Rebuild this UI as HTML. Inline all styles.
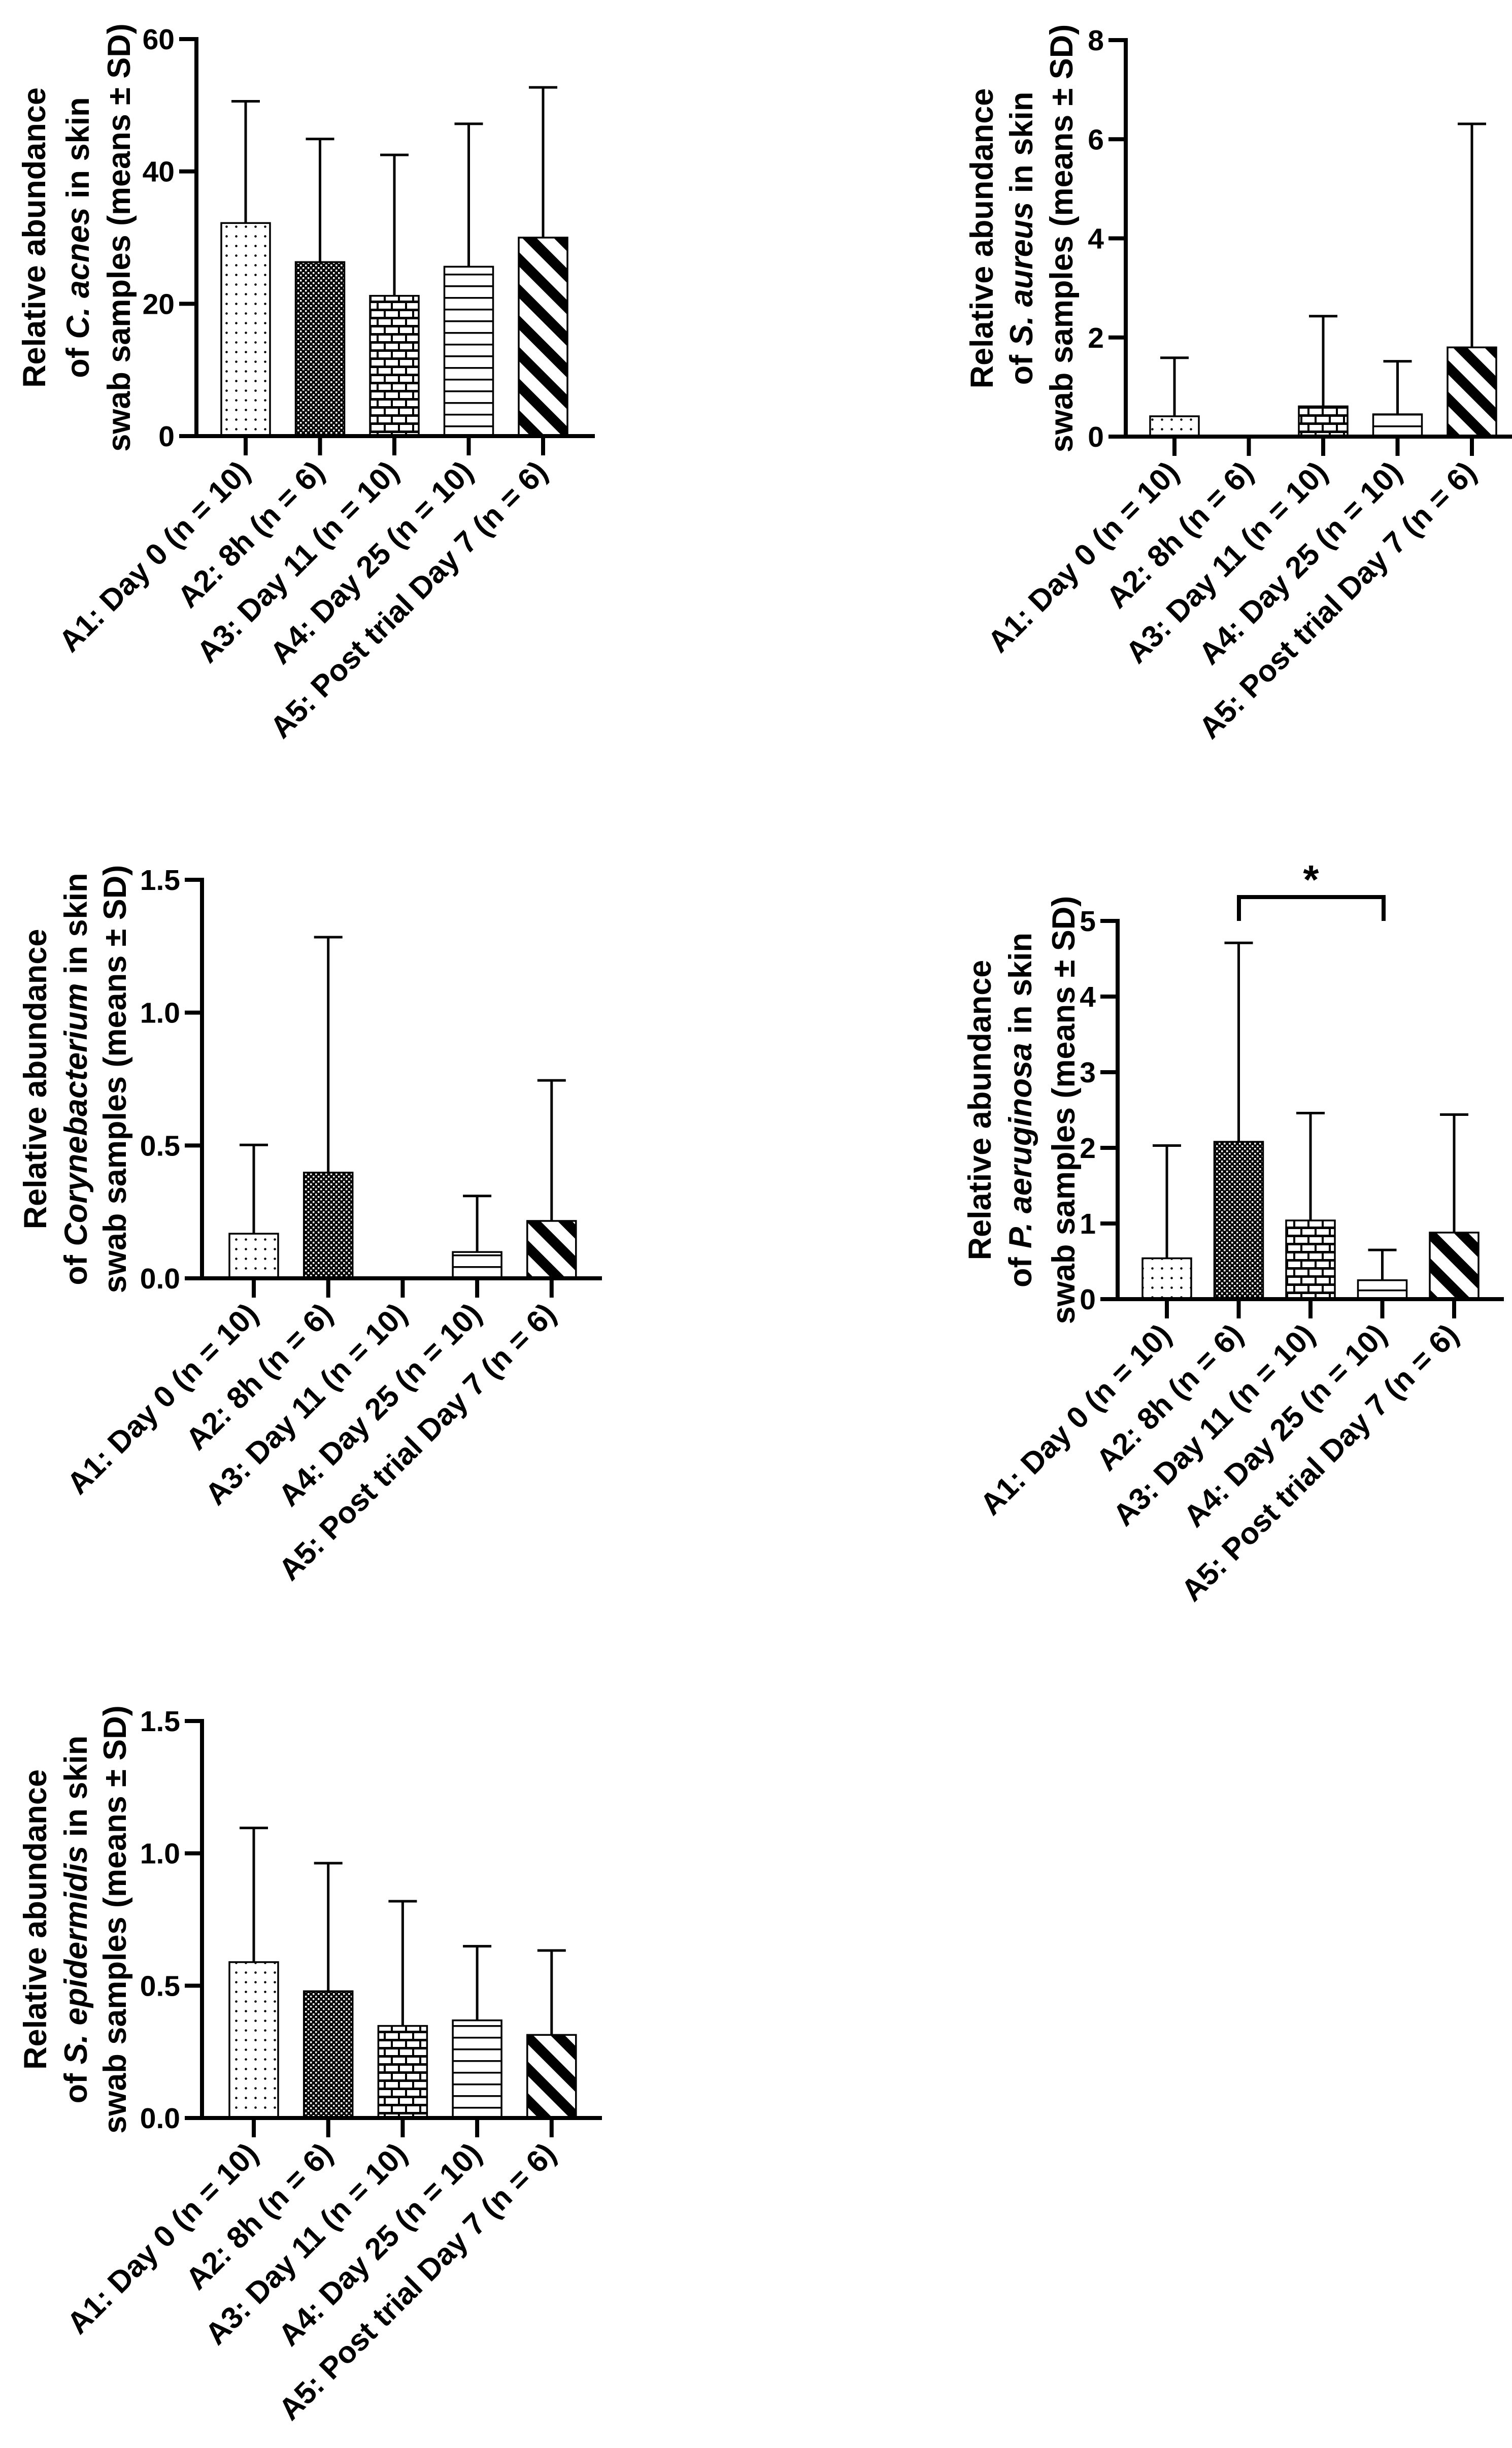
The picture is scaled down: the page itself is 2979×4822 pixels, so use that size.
<!DOCTYPE html>
<html><head><meta charset="utf-8"><style>
html,body{margin:0;padding:0;background:#fff}
svg{display:block;font-family:"Liberation Sans",Arial,sans-serif;font-weight:bold}
</style></head><body>
<svg id="fig" xmlns="http://www.w3.org/2000/svg" width="2979" height="4822" viewBox="0 0 2979 4822">
<defs>
<pattern id="p-dots" patternUnits="userSpaceOnUse" width="19" height="19"><rect width="19" height="19" fill="#fff"/><circle cx="9.5" cy="9.5" r="2.3" fill="#000"/></pattern>
<pattern id="p-check" patternUnits="userSpaceOnUse" width="10" height="10"><rect width="10" height="10" fill="#000"/><rect x="1" y="1" width="3.5" height="3.5" fill="#fff"/><rect x="6" y="6" width="3.5" height="3.5" fill="#fff"/></pattern>
<pattern id="p-brick" patternUnits="userSpaceOnUse" width="28" height="32"><rect width="28" height="32" fill="#fff"/><rect y="0" width="28" height="5" fill="#000"/><rect y="16" width="28" height="5" fill="#000"/><rect x="0" y="0" width="4" height="16" fill="#000"/><rect x="14" y="16" width="4" height="16" fill="#000"/></pattern>
<pattern id="p-hline" patternUnits="userSpaceOnUse" width="20" height="23"><rect width="20" height="23" fill="#fff"/><rect y="10" width="20" height="3.5" fill="#000"/></pattern>
<pattern id="p-diag" patternUnits="userSpaceOnUse" width="44" height="44" patternTransform="rotate(-45)"><rect width="44" height="44" fill="#fff"/><rect x="0" width="20" height="44" fill="#000"/></pattern>
</defs>
</svg>
<script>
const categories = ["A1: Day 0 (n = 10)","A2: 8h (n = 6)","A3: Day 11 (n = 10)","A4: Day 25 (n = 10)","A5: Post trial Day 7 (n = 6)"];
const acnesMean = [32.2, 26.3, 21.2, 25.6, 30.0];
const acnesTop = [50.6, 44.9, 42.5, 47.2, 52.7];
const acnesTicks = ["0","20","40","60"];
const aureusMean = [0.41, 0, 0.61, 0.45, 1.80];
const aureusTop = [1.59, 0, 2.43, 1.52, 6.31];
const aureusTicks = ["0","2","4","6","8"];
const coryneMean = [0.168, 0.398, 0, 0.099, 0.216];
const coryneTop = [0.502, 1.284, 0, 0.31, 0.745];
const coryneTicks = ["0.0","0.5","1.0","1.5"];
const paeMean = [0.54, 2.08, 1.04, 0.25, 0.88];
const paeTop = [2.03, 4.71, 2.46, 0.65, 2.44];
const paeTicks = ["0","1","2","3","4","5"];
const sepiMean = [0.589, 0.479, 0.348, 0.369, 0.314];
const sepiTop = [1.096, 0.963, 0.819, 0.649, 0.633];
const sepiTicks = ["0.0","0.5","1.0","1.5"];
const fills = ["url(#p-dots)","url(#p-check)","url(#p-brick)","url(#p-hline)","url(#p-diag)"];

const NS = "http://www.w3.org/2000/svg";
const svg = document.getElementById('fig');
function mk(tag, attrs, parent){ const e=document.createElementNS(NS,tag); for(const k in attrs) e.setAttribute(k,attrs[k]); (parent||svg).appendChild(e); return e; }

const panels = [
 {name:'c-acnes', species:'C. acnes', mean:acnesMean, top:acnesTop, ticks:acnesTicks, ax:387, y0:859, y1:77, xEnd:1172, c0:484, step:146.5, tx:[-298,-212,-131]},
 {name:'s-aureus', species:'S. aureus', mean:aureusMean, top:aureusTop, ticks:aureusTicks, ax:2218, y0:860, y1:79, xEnd:2979, c0:2314, step:146.5, tx:[-262,-184,-105]},
 {name:'corynebacterium', species:'Corynebacterium', mean:coryneMean, top:coryneTop, ticks:coryneTicks, ax:398, y0:2518, y1:1733, xEnd:1186, c0:500, step:146.7, tx:[-307,-227,-150]},
 {name:'p-aeruginosa', species:'P. aeruginosa', mean:paeMean, top:paeTop, ticks:paeTicks, ax:2202, y0:2559, y1:1814, xEnd:2963, c0:2299, step:141.5, tx:[-250,-170,-85]},
 {name:'s-epidermidis', species:'S. epidermidis', mean:sepiMean, top:sepiTop, ticks:sepiTicks, ax:398, y0:4172, y1:3390, xEnd:1186, c0:500, step:146.7, tx:[-307,-227,-150]}
];

panels.forEach(p=>{
  const g = mk('g',{});
  
  
  const tmax = parseFloat(p.ticks[p.ticks.length-1]);
  const y = v => p.y0 - (v/tmax)*(p.y0-p.y1);
  const xc = i => p.c0 + i*p.step;
  const bw = 96;
  p.mean.forEach((m,i)=>{
    if(m<=0) return;
    const r = mk('rect',{x:xc(i)-bw/2, y:y(m), width:bw, height:p.y0-y(m), fill:fills[i], stroke:'#000','stroke-width':3.5}, g);
    
    
    const e = mk('g',{}, g);
    
    
    mk('line',{x1:xc(i),x2:xc(i),y1:y(m),y2:y(p.top[i]),stroke:'#000','stroke-width':5}, e);
    mk('line',{x1:xc(i)-28,x2:xc(i)+28,y1:y(p.top[i]),y2:y(p.top[i]),stroke:'#000','stroke-width':5}, e);
  });
  const ya = mk('g',{}, g);
  
  
  mk('line',{x1:p.ax,x2:p.ax,y1:p.y1-4,y2:p.y0+4,stroke:'#000','stroke-width':8}, ya);
  p.ticks.forEach(t=>{
    const v=parseFloat(t), yy=y(v);
    mk('line',{x1:p.ax-34,x2:p.ax,y1:yy,y2:yy,stroke:'#000','stroke-width':8}, ya);
    const tl = mk('text',{x:p.ax-43,y:yy+20,'text-anchor':'end','font-size':57}, ya);
    tl.textContent=t;
    
    
  });
  const xa = mk('g',{}, g);
  
  
  mk('line',{x1:p.ax-4,x2:p.xEnd,y1:p.y0,y2:p.y0,stroke:'#000','stroke-width':8}, xa);
  categories.forEach((c,i)=>{
    mk('line',{x1:xc(i),x2:xc(i),y1:p.y0,y2:p.y0+38,stroke:'#000','stroke-width':8}, xa);
    const lx=xc(i)+12, ly=p.y0+74;
    const tl = mk('text',{x:lx,y:ly,'text-anchor':'end','font-size':60,transform:`rotate(-45 ${lx} ${ly})`}, xa);
    tl.textContent=c;
    
    
  });
  const cy = (p.y0+p.y1)/2;
  const tg = mk('g',{}, g);
  
  
  const lines = [];
  p.tx.forEach((off,k)=>{
    const x = p.ax+off;
    lines[k] = mk('text',{x:x,y:cy,'text-anchor':'middle','font-size':63,transform:`rotate(-90 ${x} ${cy})`}, tg);
  });
  lines[0].textContent='Relative abundance';
  lines[1].appendChild(document.createTextNode('of '));
  const it = mk('tspan',{'font-style':'italic'}, lines[1]); it.textContent=p.species;
  lines[1].appendChild(document.createTextNode(' in skin'));
  lines[2].textContent='swab samples (means \u00B1 SD)';
});

const sg = mk('g',{});


mk('polyline',{points:'2441,1814 2441,1767 2726,1767 2726,1814',fill:'none',stroke:'#000','stroke-width':8}, sg);
const st = mk('text',{x:2583,y:1760,'text-anchor':'middle','font-size':80}, sg);
st.textContent='*';


</script>
</body></html>
